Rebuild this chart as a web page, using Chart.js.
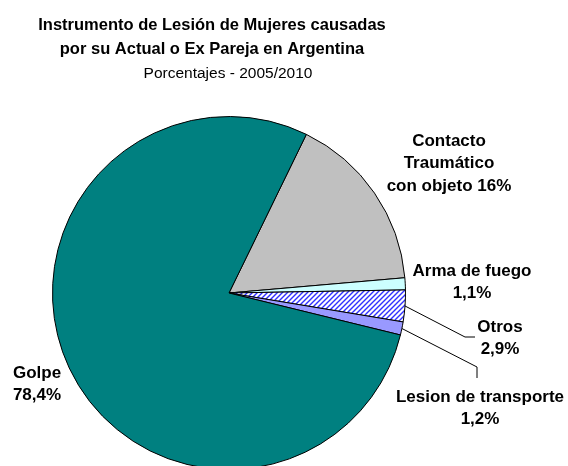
<!DOCTYPE html>
<html lang="es">
<head>
<meta charset="UTF-8">
<title>Instrumento de Lesión de Mujeres</title>
<style>
    html, body {
        margin: 0;
        padding: 0;
        background: #fff;
        overflow: hidden;
    }
    #wrap {
        position: absolute;
        left: 0;
        top: 0;
        width: 568px;
        height: 480px;
    }
</style>
<script src="https://cdn.jsdelivr.net/npm/chart.js"></script>
</head>
<body>
<div id="wrap"><canvas id="chart" width="568" height="480"></canvas></div>
<script>
// datos
const categorias = ['Contacto Traumático con objeto', 'Arma de fuego', 'Otros', 'Lesion de transporte', 'Golpe'];
const porcentajes = [16.4, 1.1, 2.9, 1.2, 78.4];
const etiquetas = [
    ['Contacto', 'Traumático', 'con objeto 16%'],
    ['Arma de fuego', '1,1%'],
    ['Otros', '2,9%'],
    ['Lesion de transporte', '1,2%'],
    ['Golpe', '78,4%']
];
const titulo = ['Instrumento de Lesión de Mujeres causadas', 'por su Actual o Ex Pareja en Argentina'];
const subtitulo = 'Porcentajes - 2005/2010';

// relleno rayado para "Otros"
function rayado() {
    const c = document.createElement('canvas');
    c.width = 5; c.height = 5;
    const g = c.getContext('2d');
    g.fillStyle = '#fff';
    g.fillRect(0, 0, 5, 5);
    g.strokeStyle = '#3030ff';
    g.lineWidth = 1.4;
    g.beginPath();
    g.moveTo(-1, 6); g.lineTo(6, -1);
    g.moveTo(-1, 1); g.lineTo(1, -1);
    g.moveTo(4, 6); g.lineTo(6, 4);
    g.stroke();
    return g.createPattern(c, 'repeat');
}
const ctx = document.getElementById('chart').getContext('2d');
const colores = ['#c0c0c0', '#ccffff', rayado(), '#9999ff', '#008080'];

// posiciones de etiquetas respecto al centro del pastel
const posEtiquetas = [
    { dx: 220, dy: -152 },
    { dx: 243, dy: -22 },
    { dx: 271, dy: 34 },
    { dx: 251, dy: 104 },
    { dx: -192, dy: 80 }
];
// líneas guía (codos) respecto al centro
const guias = {
    2: [[236, 44], [246, 44]],
    3: [[248, 74], [248, 85]]
};

const textos = {
    id: 'textos',
    afterDraw(chart) {
        const c = chart.ctx;
        const arcs = chart.getDatasetMeta(0).data;
        const cx = arcs[0].x, cy = arcs[0].y;
        c.save();
        // título
        c.fillStyle = '#000';
        c.textAlign = 'center';
        c.textBaseline = 'middle';
        c.font = 'bold 16.5px "Liberation Sans", Arial, sans-serif';
        titulo.forEach((t, i) => c.fillText(t, 212, 25 + i * 24));
        c.font = '15.5px "Liberation Sans", Arial, sans-serif';
        c.fillText(subtitulo, 228, 74);

        // líneas guía
        c.strokeStyle = '#000';
        c.lineWidth = 1;
        Object.keys(guias).forEach(k => {
            const a = arcs[k];
            const p = a.getProps(['startAngle', 'endAngle', 'outerRadius']);
            const m = (p.startAngle + p.endAngle) / 2;
            c.beginPath();
            c.moveTo(cx + Math.cos(m) * p.outerRadius, cy + Math.sin(m) * p.outerRadius);
            guias[k].forEach(pt => c.lineTo(cx + pt[0], cy + pt[1]));
            c.stroke();
        });

        // etiquetas
        c.font = 'bold 17px "Liberation Sans", Arial, sans-serif';
        etiquetas.forEach((lineas, i) => {
            const pos = posEtiquetas[i];
            lineas.forEach((l, j) => c.fillText(l, cx + pos.dx, cy + pos.dy + j * 22.5));
        });
        c.restore();
    }
};

new Chart(ctx, {
    type: 'pie',
    data: {
        labels: categorias,
        datasets: [{
            data: porcentajes,
            backgroundColor: colores,
            borderColor: '#000',
            borderWidth: 1
        }]
    },
    options: {
        responsive: false,
        animation: false,
        devicePixelRatio: 1,
        rotation: 26,
        layout: {
            padding: { top: 116, left: 52, right: 162, bottom: 10 }
        },
        plugins: {
            legend: { display: false },
            tooltip: { enabled: false },
            title: { display: false }
        }
    },
    plugins: [textos]
});
</script>
</body>
</html>
